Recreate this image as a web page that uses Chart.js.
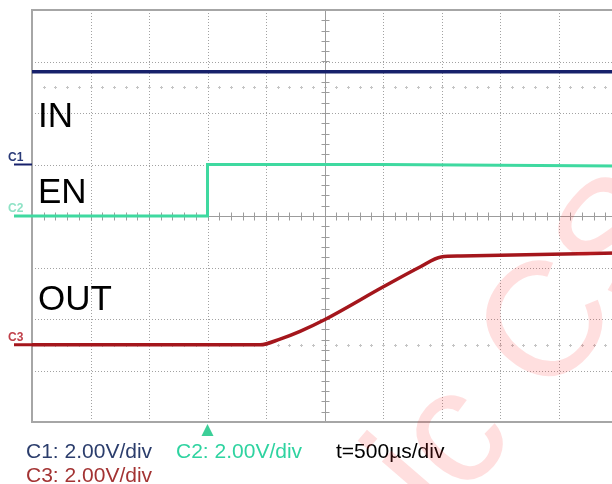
<!DOCTYPE html>
<html><head><meta charset="utf-8">
<script src="https://cdn.jsdelivr.net/npm/chart.js@4.4.0/dist/chart.umd.min.js"></script>
<style>
html,body{margin:0;padding:0;background:#fff;overflow:hidden;width:612px;height:484px}
#wrap{position:absolute;left:0;top:0;width:612px;height:484px;overflow:hidden}
canvas{position:absolute;left:0;top:0}
</style></head><body>
<div id="wrap"><canvas id="c" width="640" height="484"></canvas></div>
<script>
// Time axis: microseconds from the left edge of the screen, 500 µs/div, 10 divisions
const timeTicks = [0, 500, 1000, 1500, 2000, 2500, 3000, 3500, 4000, 4500, 5000];
// Vertical axis: screen divisions
const divTicks = [0, 1, 2, 3, 4, 5, 6, 7, 8];
const voltsPerDiv = 2.0;
const channelNames = ['C1', 'C2', 'C3'];
const traceLabels = ['IN', 'EN', 'OUT'];
const groundDiv = [5.0, 4.0, 1.5];        // channel ground markers (div)
const triggerTime = 1500;                 // µs

// C1 (IN)
const inTime  = [0, 5000];
const inVolts = [3.6, 3.6];
// C2 (EN)
const enTime  = [0, 1500, 1500, 3000, 5000];
const enVolts = [0, 0, 2.0, 2.0, 1.94];
// C3 (OUT)
const outTime  = [0, 1950, 2120, 2291, 2504, 2999, 3316, 3496, 3666, 5000];
const outVolts = [0, 0, 0.22, 0.52, 0.98, 2.24, 3.02, 3.41, 3.45, 3.56];

const scaleText = ['C1: 2.00V/div', 'C2: 2.00V/div', 't=500\u00b5s/div', 'C3: 2.00V/div'];

const colors = {
  c1: '#17216b', c2: '#3fd9a0', c3: '#a4161c',
  t1: '#2b3d6c', t2: '#2ed3a0', t3: '#a33333'
};

function toPts(ts, vs, ch) {
  return ts.map((t, i) => ({ x: t, y: groundDiv[ch] + vs[i] / voltsPerDiv }));
}

const scopePlugin = {
  id: 'scope',
  beforeDatasetsDraw(chart) {
    const { ctx, chartArea: a, scales: { x, y } } = chart;
    ctx.save();
    // dotted grid
    ctx.strokeStyle = '#a2a2a2';
    ctx.lineWidth = 1;
    ctx.setLineDash([1, 2]);
    timeTicks.forEach(t => {
      if (t === 0 || t === 5000 || t === 2500) return;
      const px = Math.round(x.getPixelForValue(t)) + 0.5;
      ctx.beginPath(); ctx.moveTo(px, a.top); ctx.lineTo(px, a.bottom); ctx.stroke();
    });
    divTicks.forEach(d => {
      if (d === 0 || d === 8 || d === 4) return;
      const py = Math.round(y.getPixelForValue(d)) + 0.5;
      ctx.beginPath(); ctx.moveTo(a.left, py); ctx.lineTo(a.right, py); ctx.stroke();
    });
    ctx.setLineDash([]);
    // faint marker rows at 1.5 and 6.5 div
    ctx.strokeStyle = '#c4c4c4';
    [1.5, 6.5].forEach(d => {
      const py = Math.round(y.getPixelForValue(d)) + 0.5;
      for (let t = 100; t < 5000; t += 100) {
        const px = Math.round(x.getPixelForValue(t)) + 0.5;
        ctx.beginPath(); ctx.moveTo(px - 1.5, py); ctx.lineTo(px + 1.5, py);
        ctx.moveTo(px, py - 1.5); ctx.lineTo(px, py + 1.5); ctx.stroke();
      }
    });
    // center axes with minor ticks
    ctx.strokeStyle = '#9c9c9c';
    const cx = Math.round(x.getPixelForValue(2500)) + 0.5;
    const cy = Math.round(y.getPixelForValue(4)) + 0.5;
    ctx.beginPath();
    ctx.moveTo(cx, a.top); ctx.lineTo(cx, a.bottom);
    ctx.moveTo(a.left, cy); ctx.lineTo(a.right, cy);
    ctx.stroke();
    ctx.beginPath();
    for (let t = 100; t < 5000; t += 100) {
      const px = Math.round(x.getPixelForValue(t)) + 0.5;
      ctx.moveTo(px, cy - 4); ctx.lineTo(px, cy + 4);
    }
    for (let d = 0.2; d < 8; d += 0.2) {
      const py = Math.round(y.getPixelForValue(d)) + 0.5;
      ctx.moveTo(cx - 4, py); ctx.lineTo(cx + 4, py);
    }
    ctx.stroke();
    // frame
    ctx.strokeStyle = '#a6a6a6';
    ctx.lineWidth = 2;
    ctx.strokeRect(a.left, a.top, a.right - a.left, a.bottom - a.top);
    ctx.restore();
  },
  afterDatasetsDraw(chart) {
    const { ctx, chartArea: a, scales: { x, y } } = chart;
    ctx.save();
    // channel ground markers
    const mcol = [colors.c1, colors.c2, colors.c3];
    const tcol = ['#2a3a78', '#8fe3c6', '#c0404a'];
    groundDiv.forEach((d, i) => {
      const py = y.getPixelForValue(d);
      ctx.strokeStyle = mcol[i];
      ctx.lineWidth = i === 0 ? 2 : 3;
      ctx.beginPath(); ctx.moveTo(a.left - 18, py); ctx.lineTo(a.left, py); ctx.stroke();
      ctx.fillStyle = tcol[i];
      ctx.font = 'bold 12px "Liberation Sans", Arial, sans-serif';
      ctx.textBaseline = 'alphabetic';
      ctx.fillText(channelNames[i], a.left - 24, py - 4);
    });
    // trace labels
    ctx.fillStyle = '#000';
    ctx.font = '35px "Liberation Sans", Arial, sans-serif';
    const labelDiv = [5.73, 4.25, 2.17];
    traceLabels.forEach((s, i) => {
      ctx.fillText(s, a.left + 6, y.getPixelForValue(labelDiv[i]));
    });
    // trigger marker
    const tx = x.getPixelForValue(triggerTime);
    ctx.fillStyle = '#3ccf98';
    ctx.beginPath();
    ctx.moveTo(tx, a.bottom + 2); ctx.lineTo(tx - 6, a.bottom + 14); ctx.lineTo(tx + 6, a.bottom + 14);
    ctx.closePath(); ctx.fill();
    // scale readouts
    ctx.font = '21px "Liberation Sans", Arial, sans-serif';
    ctx.fillStyle = colors.t1; ctx.fillText(scaleText[0], 26, 458);
    ctx.fillStyle = colors.t2; ctx.fillText(scaleText[1], 176, 458);
    ctx.fillStyle = '#000';    ctx.fillText(scaleText[2], 336, 458);
    ctx.fillStyle = colors.t3; ctx.fillText(scaleText[3], 26, 482);
    // watermark
    ctx.translate(440, 526);
    ctx.rotate(-0.86);
    ctx.fillStyle = 'rgba(255,40,40,0.15)';
    ctx.font = '163px "Liberation Sans", Arial, sans-serif';
    ctx.fillText('ic CS', 0, 0);
    ctx.restore();
  }
};

new Chart(document.getElementById('c'), {
  type: 'line',
  data: {
    datasets: [
      { label: 'IN',  data: toPts(inTime, inVolts, 0),  borderColor: colors.c1, borderWidth: 3.5 },
      { label: 'EN',  data: toPts(enTime, enVolts, 1),  borderColor: colors.c2, borderWidth: 3 },
      { label: 'OUT', data: toPts(outTime, outVolts, 2), borderColor: colors.c3, borderWidth: 3.5, cubicInterpolationMode: 'monotone' }
    ]
  },
  options: {
    responsive: false,
    animation: false,
    events: [],
    layout: { padding: { left: 32, top: 10, right: 23, bottom: 62 } },
    elements: { point: { radius: 0 }, line: { tension: 0 } },
    plugins: { legend: { display: false }, tooltip: { enabled: false } },
    scales: {
      x: { type: 'linear', min: 0, max: 5000, display: false },
      y: { type: 'linear', min: 0, max: 8, display: false }
    }
  },
  plugins: [scopePlugin]
});
</script>
</body></html>
